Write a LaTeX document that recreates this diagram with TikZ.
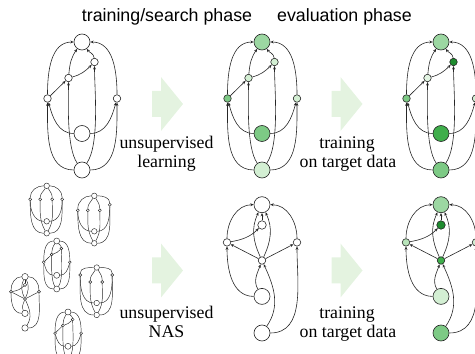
\documentclass[tikz,border=0pt]{standalone}
\usepackage{fontspec}
\setmainfont{Liberation Serif}
\newfontfamily\headfont{Liberation Sans}
\usetikzlibrary{arrows.meta}

\definecolor{gpale}{HTML}{E3F5E3}
\definecolor{glight}{HTML}{D3EFD3}
\definecolor{gsoft}{HTML}{B8E4BA}
\definecolor{gmid}{HTML}{9CD7A2}
\definecolor{gmed}{HTML}{7DCA85}
\definecolor{gdark}{HTML}{3FAE4B}
\definecolor{gdeep}{HTML}{1E8B2E}
\definecolor{arrowfill}{HTML}{E4F3E0}

\tikzset{
  cell/.style={circle, draw=black!85, fill=white, inner sep=0pt, line width=0.6pt},
  bignode/.style={cell, minimum size=16pt},
  smallnode/.style={cell, minimum size=7.5pt},
  midnode/.style={cell, minimum size=8.5pt},
  tiny/.style={cell, line width=0.45pt, minimum size=3pt},
  tinybig/.style={cell, line width=0.45pt, minimum size=5.5pt},
  arr/.style={->, draw=black!85, line width=0.6pt},
  wire/.style={draw=black!85, line width=0.45pt},
  sketch/.style={transform shape, arr/.style={draw=black!85, line width=0.45pt},
    cell/.append style={line width=0.45pt}},
  phase/.style={font=\headfont\fontsize{17.8}{21}\selectfont, anchor=base},
  lbl/.style={font=\fontsize{17.8}{21}\selectfont, anchor=base}
}

% cell with a chain a -> b (top row)
\newcommand{\cellA}[9]{%
  \begin{scope}[#2]
    \node[bignode, fill=#3] (#1T) at (0,128) {};
    \node[smallnode, fill=#4] (#1b) at (12.5,108) {};
    \node[smallnode, fill=#5] (#1a) at (-13.5,92) {};
    \node[smallnode, fill=#6] (#1L) at (-34.5,71.5) {};
    \node[smallnode, fill=#7] (#1R) at (35,71.5) {};
    \node[bignode, fill=#8] (#1M) at (0,36.5) {};
    \node[bignode, fill=#9] (#1B) at (0,0) {};
    \draw[arr] (#1L) to[out=90,in=180] (#1T);
    \draw[arr] (#1R) to[out=90,in=0] (#1T);
    \draw[arr] (#1B) to[out=180,in=-90] (#1L);
    \draw[arr] (#1B) to[out=0,in=-90] (#1R);
    \draw[arr] (#1M) to[out=180,in=-75] (#1L);
    \draw[arr] (#1M) to[out=0,in=-105] (#1R);
    \draw[arr] (#1L) -- (#1a);
    \draw[arr] (#1a) to[out=15,in=-135] (#1b);
    \draw[arr] (#1a) to[out=85,in=-125] (#1T);
    \draw[arr] (#1b) to[out=95,in=-55] (#1T);
    \draw[arr] (#1B) to[out=125,in=-90,looseness=0.6] (#1a);
    \draw[arr] (#1B) to[out=55,in=-90,looseness=0.6] (#1b);
  \end{scope}}

% cell with a central hub (bottom row)
\newcommand{\cellB}[9]{%
  \begin{scope}[#2]
    \node[bignode, fill=#3] (#1T) at (0,128.3) {};
    \node[midnode, fill=#4] (#1t) at (0,108) {};
    \node[smallnode, fill=#5] (#1L) at (-35,90.6) {};
    \node[smallnode, fill=#6] (#1R) at (35,90.6) {};
    \node[smallnode, fill=#7] (#1C) at (0,72.5) {};
    \node[bignode, fill=#8] (#1M) at (0,36.6) {};
    \node[bignode, fill=#9] (#1B) at (0,0) {};
    \draw[arr] (#1L) to[out=90,in=180] (#1T);
    \draw[arr] (#1R) to[out=90,in=0] (#1T);
    \draw[arr] (#1L) to[out=10,in=-135] (#1t);
    \draw[arr] (#1C) -- (#1L);
    \draw[arr] (#1C) -- (#1R);
    \draw[arr] (#1C) to[out=115,in=-115] (#1T);
    \draw[arr] (#1C) to[out=65,in=-65] (#1T);
    \draw[arr] (#1t) -- (#1T);
    \draw[arr] (#1M) to[out=120,in=-110] (#1C);
    \draw[arr] (#1B) to[out=55,in=-65] (#1C);
    \draw[arr] (#1M) to[out=180,in=-90] (#1L);
    \draw[arr] (#1B) to[out=0,in=-90] (#1R);
  \end{scope}}

% small sampled cell with four middle nodes
\newcommand{\rowcell}[5]{%
  \begin{scope}[#2]
    \node[tinybig] (#1t) at (0,47.5) {};
    \node[tiny] (#1n1) at (-16.5,#3) {};
    \node[tiny] (#1n2) at (-6.5,#4) {};
    \node[tiny] (#1n3) at (5.5,#4) {};
    \node[tiny] (#1n4) at (15.5,#5) {};
    \node[tinybig] (#1m) at (0,12) {};
    \node[tinybig] (#1b) at (0,0) {};
    \draw[wire] (#1n1) to[out=90,in=180] (#1t);
    \draw[wire] (#1n4) to[out=90,in=0] (#1t);
    \draw[wire] (#1n2) to[out=90,in=-120] (#1t);
    \draw[wire] (#1n3) to[out=90,in=-60] (#1t);
    \draw[wire] (#1b) to[out=180,in=-90] (#1n1);
    \draw[wire] (#1b) to[out=0,in=-90] (#1n4);
    \draw[wire] (#1m) to[out=180,in=-90] (#1n1);
    \draw[wire] (#1m) to[out=0,in=-90] (#1n4);
    \draw[wire] (#1b) to[out=120,in=-90] (#1n2);
    \draw[wire] (#1b) to[out=60,in=-90] (#1n3);
  \end{scope}}

\begin{document}
\begin{tikzpicture}[x=1pt, y=1pt, >={Stealth[length=3.4pt,width=2.8pt]}]
  \useasboundingbox (0,0) rectangle (475,354);

  % block arrows
  \foreach \dx/\dy in {0/0, 179.5/0, 0/-166.5, 179.5/-166.5}
    \fill[arrowfill, shift={(\dx,\dy)}] (152,237) -- (161,237) -- (161,223)
      -- (183,250) -- (161,277) -- (161,263) -- (152,263) -- cycle;

  % titles
  \node[phase] (search) at (167,332) {training/search phase};
  \node[phase] (eval) at (344.5,332) {evaluation phase};

  % top row: learned cell
  \cellA{p}{shift={(82,184)}}{white}{white}{white}{white}{white}{white}{white}
  \cellA{q}{shift={(262,184)}}{gmid}{glight}{glight}{gmed}{glight}{gmed}{glight}
  \cellA{r}{shift={(441,184)}}{gmid}{gdeep}{gpale}{gmed}{glight}{gdark}{gmed}

  % bottom row: searched cell
  \cellB{u}{shift={(262,21)}}{white}{white}{white}{white}{white}{white}{white}
  \cellB{v}{shift={(441,21)}}{gmid}{gdeep}{gsoft}{glight}{gdark}{glight}{gmed}

  % sampled architectures
  \rowcell{sa}{shift={(46.7,120.7)}}{34}{34}{34}
  \rowcell{sb}{shift={(94.3,110.7)}}{33}{33}{38.5}
  \rowcell{sd}{shift={(96.7,39)}}{40}{33}{40}
  \cellA{sc}{shift={(56.7,65)}, scale=0.375, sketch}{white}{white}{white}{white}{white}{white}{white}
  \cellB{se}{shift={(25,26)}, scale=0.4, sketch}{white}{white}{white}{white}{white}{white}{white}
  \cellA{sf}{shift={(68,-6)}, scale=0.375, sketch}{white}{white}{white}{white}{white}{white}{white}

  % labels
  \node[lbl] (unsupA) at (166.5,205) {unsupervised};
  \node[lbl] (learn) at (166.5,186) {learning};
  \node[lbl] (trainA) at (347,205) {training};
  \node[lbl] (targetA) at (348,186) {on target data};
  \node[lbl] (unsupB) at (166.5,35) {unsupervised};
  \node[lbl] (nas) at (166.5,16) {NAS};
  \node[lbl] (trainB) at (347,35) {training};
  \node[lbl] (targetB) at (348,16) {on target data};
\end{tikzpicture}
\end{document}
